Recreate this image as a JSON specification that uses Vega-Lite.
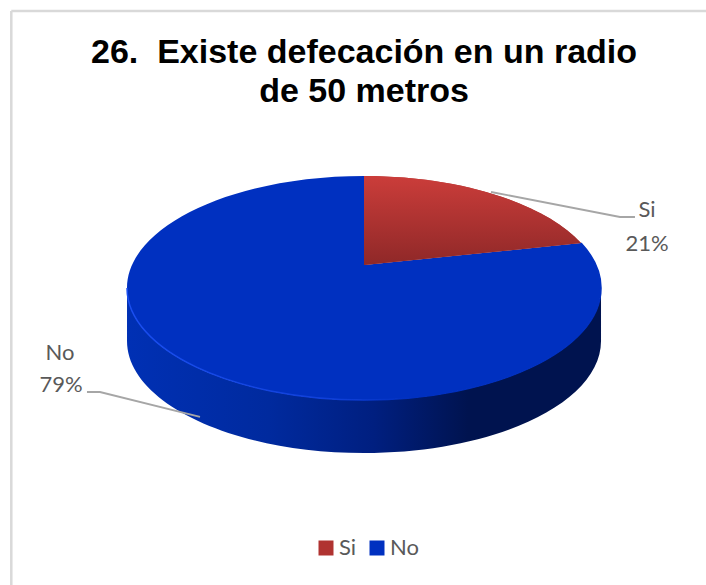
{
"$schema":"https://vega.github.io/schema/vega-lite/v6.json",
"width":706,"height":585,"padding":0,"autosize":{"type":"none"},"background":"white",
"view":{"stroke":null},
"title":{"text":["26.\u00a0\u00a0Existe defecación en un radio","de 50 metros"],"font":"Liberation Sans","fontSize":34,"fontWeight":"bold","color":"#000000","anchor":"middle","dx":11,"offset":-136,"lineHeight":39,"baseline":"alphabetic"},
"datasets":{
"frame":[{"x":1.6,"y":1.9,"x2":1.6,"y2":100},{"x":1.6,"y":1.9,"x2":100,"y2":1.9}],
"slices":[{"slice":"Si","pct":21,"x":51.56,"y":49.23},{"slice":"No","pct":79,"x":51.56,"y":49.23}],
"leaders":[
{"slice":"Si","o":1,"x":69.55,"y":32.82},{"slice":"Si","o":2,"x":87.82,"y":37.09},{"slice":"Si","o":3,"x":89.94,"y":37.09},
{"slice":"No","o":1,"x":12.32,"y":67.01},{"slice":"No","o":2,"x":14.16,"y":67.01},{"slice":"No","o":3,"x":28.33,"y":71.28}],
"labels":[{"t":"Si","x":91.64,"y":35.9},{"t":"21%","x":91.64,"y":41.7},{"t":"No","x":8.5,"y":60.34},{"t":"79%","x":8.64,"y":65.8}]
},
"encoding":{
"x":{"field":"x","type":"quantitative","scale":{"domain":[0,100]},"axis":null},
"y":{"field":"y","type":"quantitative","scale":{"domain":[100,0]},"axis":null}
},
"layer":[
{"data":{"name":"frame"},"mark":{"type":"rule","color":"#d9d9d9","strokeWidth":2.5},"encoding":{"x2":{"field":"x2"},"y2":{"field":"y2"}}},
{"data":{"name":"slices"},"transform":[{"filter":"datum.slice==='No'"}],
"mark":{"type":"point","filled":true,"opacity":1,"size":224676,"shape":"M-1 0L-1 .2236C-1 .4846 -.5523 .6962 0 .6962C.5523 .6962 1 .4846 1 .2236L1 0C1 .261 .5523 .4726 0 .4726C-.5523 .4726 -1 .261 -1 0Z",
"fill":{"gradient":"linear","x1":0,"y1":0,"x2":1,"y2":0,"stops":[{"offset":0,"color":"#0030b4"},{"offset":0.3,"color":"#002a9e"},{"offset":0.52,"color":"#001f80"},{"offset":0.72,"color":"#00134f"},{"offset":1,"color":"#00134f"}]}}},
{"data":{"name":"slices"},"transform":[{"filter":"datum.slice==='No'"}],
"mark":{"type":"point","filled":true,"opacity":1,"size":224676,"shape":"M0 -.097L.9156 -.19C.9712 -.1301 1 -.0654 1 0C1 .261 .5523 .4726 0 .4726C-.5523 .4726 -1 .261 -1 0C-1 -.261 -.5523 -.4726 0 -.4726Z"},
"encoding":{
"color":{"field":"slice","type":"nominal","scale":{"domain":["Si","No"],"range":["#b03331","#0030c0"]},
"legend":{"title":null,"orient":"none","legendX":315,"legendY":537,"direction":"horizontal","symbolType":"square","symbolSize":225,"symbolStrokeWidth":0,"labelFont":"Lato","labelFontSize":22,"labelColor":"#595959","labelOffset":2,"columnPadding":9,"symbolOpacity":1}}}},
{"data":{"name":"slices"},"transform":[{"filter":"datum.slice==='Si'"}],
"mark":{"type":"point","filled":true,"opacity":1,"size":224676,"shape":"M0 -.097L0 -.4726C.3967 -.4726 .7561 -.3616 .9156 -.19Z"},
"encoding":{"color":{"field":"slice","type":"nominal"}}},
{"data":{"name":"slices"},"transform":[{"filter":"datum.slice==='No'"}],
"mark":{"type":"point","filled":false,"opacity":1,"size":224676,"strokeWidth":1.5,"shape":"M.9156 -.19C.9712 -.1301 1 -.0654 1 0C1 .261 .5523 .4726 0 .4726C-.5523 .4726 -1 .261 -1 0",
"stroke":{"gradient":"linear","x1":0,"y1":0,"x2":1,"y2":0,"stops":[{"offset":0,"color":"#1a4ef0"},{"offset":0.45,"color":"#0f3fd8"},{"offset":0.6,"color":"#0030c0"},{"offset":1,"color":"#0030c0"}]}}},
{"data":{"name":"slices"},"transform":[{"filter":"datum.slice==='Si'"}],
"mark":{"type":"point","filled":true,"opacity":1,"size":224676,"shape":"M0 -.097L0 -.4726C.3967 -.4726 .7561 -.3616 .9156 -.19Z",
"fill":{"gradient":"linear","x1":0,"y1":0,"x2":0,"y2":1,"stops":[{"offset":0,"color":"#cb3d3a"},{"offset":1,"color":"#8f2828"}]}}},
{"data":{"name":"leaders"},"mark":{"type":"line","color":"#a6a6a6","strokeWidth":1.8},"encoding":{"detail":{"field":"slice"},"order":{"field":"o","type":"quantitative"}}},
{"data":{"name":"labels"},"mark":{"type":"text","font":"Lato","fontSize":22,"color":"#595959","align":"center","baseline":"middle"},"encoding":{"text":{"field":"t"}}}
]
}
